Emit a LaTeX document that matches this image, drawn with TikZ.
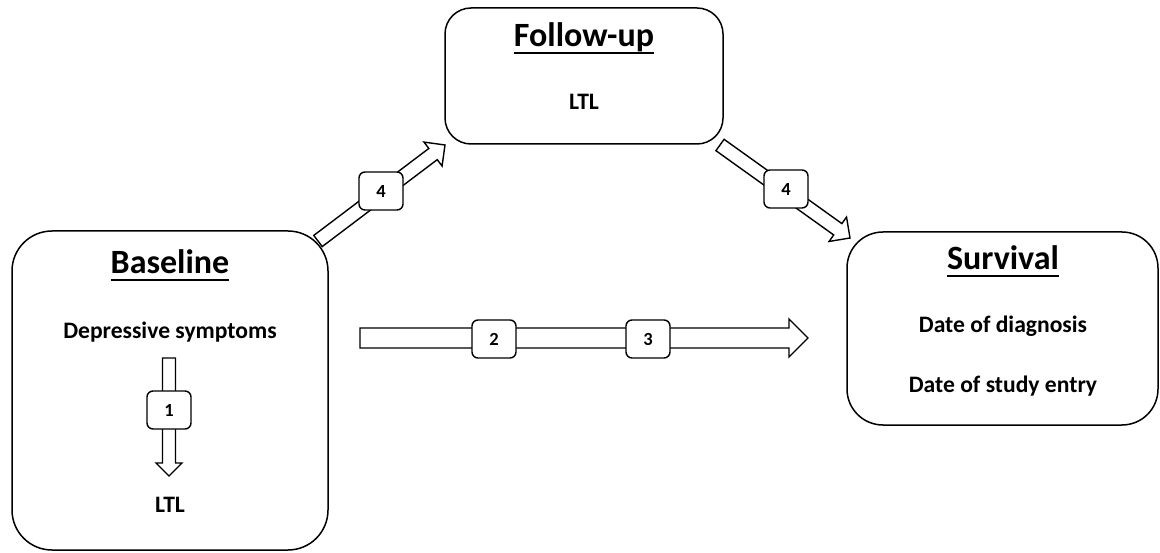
\documentclass[tikz,border=0pt]{standalone}
\usepackage{fontspec}
\setmainfont{Carlito}
\usetikzlibrary{calc}
\tikzset{
  stagebox/.style={draw=black, line width=1.5pt, fill=white, inner sep=0pt},
  numbox/.style={draw=black, line width=1.4pt, fill=white, rounded corners=6pt, minimum width=44pt, minimum height=38pt, inner sep=0pt, font=\fontsize{18.5}{20}\selectfont\bfseries},
  title/.style={anchor=base, inner sep=0pt, font=\fontsize{34}{38}\selectfont\bfseries},
  body/.style={anchor=base, inner sep=0pt, font=\fontsize{23.6}{26}\selectfont\bfseries},
  blockline/.style={draw=black, line width=1.4pt, fill=white, line join=miter}
}
% #1 from, #2 to, #3 half shaft, #4 half head (= head depth)
\newcommand\blockarrow[4]{%
  \draw[blockline]
    ($(#1)!#3!90:(#2)$) --
    ($(#2)!#4!(#1)!#3!-90:(#1)$) --
    ($(#2)!#4!(#1)!#4!-90:(#1)$) --
    (#2) --
    ($(#2)!#4!(#1)!#4!90:(#1)$) --
    ($(#2)!#4!(#1)!#3!90:(#1)$) --
    ($(#1)!#3!-90:(#2)$) -- cycle;}
\newcommand\ulline[1]{\draw[line width=2pt] ([yshift=-6.5pt]#1.base west) -- ([yshift=-6.5pt]#1.base east);}
\begin{document}
\begin{tikzpicture}[x=1pt, y=-1pt]
\useasboundingbox (0,0) rectangle (1160,553);
% stage boxes
\node[stagebox, rounded corners=40pt, minimum width=316pt, minimum height=319pt] (base) at (170,390.5) {};
\node[stagebox, rounded corners=26pt, minimum width=278pt, minimum height=136pt] (fup) at (584,76) {};
\node[stagebox, rounded corners=36pt, minimum width=311pt, minimum height=193pt] (surv) at (1002.5,328.5) {};
% arrow end points
\coordinate (a1s) at (169,358);
\coordinate (a1e) at (169,476);
\coordinate (a2s) at (360,338);
\coordinate (a2e) at (808,338);
\coordinate (a3s) at (318,241);
\coordinate (a3e) at (445,145);
\coordinate (a4s) at (720,145);
\coordinate (a4e) at (850,238);
\blockarrow{a1s}{a1e}{6.5pt}{13pt}
\blockarrow{a2s}{a2e}{10pt}{19pt}
\blockarrow{a3s}{a3e}{7pt}{15pt}
\blockarrow{a4s}{a4e}{7pt}{15pt}
% number boxes
\node[numbox] (n1) at (169,410) {1};
\node[numbox] (n2) at (494,339) {2};
\node[numbox] (n3) at (648,339) {3};
\node[numbox] (n4a) at (381,191) {4};
\node[numbox] (n4b) at (786,189) {4};
% texts
\node[title] (tb) at (170,274) {Baseline};
\ulline{tb}
\node[body] (dep) at (170,339) {Depressive symptoms};
\node[body] (ltl1) at (170,512) {LTL};
\node[title] (tf) at (584,47) {Follow-up};
\ulline{tf}
\node[body] (ltl2) at (584,110) {LTL};
\node[title] (ts) at (1003,270) {Survival};
\ulline{ts}
\node[body] (dd) at (1003,333) {Date of diagnosis};
\node[body] (ds) at (1003,392) {Date of study entry};
\end{tikzpicture}
\end{document}
